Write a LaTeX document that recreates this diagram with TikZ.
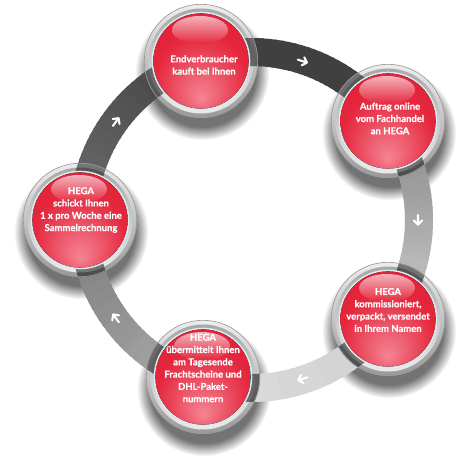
\documentclass[tikz,border=0pt]{standalone}
\usepackage{fontspec}
\setmainfont{Lato}[BoldFont={Lato Bold}, BoldFeatures={FakeBold=0.6}]
\usetikzlibrary{fadings}
\definecolor{reddark}{HTML}{BE001C}
\definecolor{redmid}{HTML}{E5283E}
\definecolor{redmidb}{HTML}{DC1A32}
\definecolor{redlight}{HTML}{F48494}
\definecolor{hilite}{HTML}{F7C2C8}
\definecolor{innerline}{HTML}{D8EEF0}
\pgfdeclareradialshading{redball}{\pgfpoint{0bp}{-20bp}}{color(0bp)=(redlight); color(24bp)=(redmid); color(42bp)=(redmidb); color(47bp)=(reddark); color(50bp)=(reddark)}
\tikzset{
  btntext/.style={text=white, font=\bfseries\fontsize{9.5}{12.3}\selectfont, align=center, inner sep=0pt},
  arrowmark/.style={white, line width=2.1pt, line cap=round, line join=round},
}
\newcommand{\bandarc}[4]{%
  \foreach \k in {0,...,35}{%
    \pgfmathsetmacro\angA{#1+(#2-#1)*\k/36}%
    \pgfmathsetmacro\angB{#1+(#2-#1)*(\k+1.4)/36}%
    \pgfmathtruncatemacro\bri{#3+(#4-#3)*\k/36}%
    \fill[white!\bri!black] (\angA:154) arc[start angle=\angA,end angle=\angB,radius=154] -- (\angB:182) arc[start angle=\angB,end angle=\angA,radius=182] -- cycle;
  }}
\newcommand{\shadowat}[1]{%
  \fill[black, opacity=0.55, path fading=circle with fuzzy edge 20 percent] ([shift={(1,-12)}]#1) circle (67);}
\newcommand{\rimat}[1]{%
  \begin{scope}[shift={(#1)}]
    \shade[top color=white!93!black, bottom color=white!60!black] (0,0) circle (57);
    \shade[top color=white!66!black, bottom color=white!92!black] (0,0) circle (52.5);
  \end{scope}}
\newcommand{\ballat}[1]{%
  \begin{scope}[shift={(#1)}]
    \draw[black!40, line width=0.6pt] (0,0) circle (56.7);
    \fill[innerline] (0,0) circle (49.3);
    \fill[shading=redball] (0,0) circle (47.6);
    \shade[top color=hilite, bottom color=redmid, opacity=0.9] (-1,31) ellipse (28 and 14);
  \end{scope}}
\newcommand{\arrowat}[1]{%
  \begin{scope}[shift={(#1:167)}, rotate=#1-90]
    \draw[arrowmark] (-5,0) -- (4.5,0) (0.4,-4.2) -- (4.6,0) -- (0.4,4.2);
  \end{scope}}
\begin{document}
\begin{tikzpicture}[x=1pt,y=1pt]
  \fill[white] (0,0) rectangle (470,455);
  \useasboundingbox (0,0) rectangle (470,455);
  \coordinate (T) at (201,394);
  \coordinate (RT) at (388,334);
  \coordinate (RB) at (388,136);
  \coordinate (B) at (203,78);
  \coordinate (L) at (80,235);
  \coordinate (C) at (251,235);
  \shadowat{T}\shadowat{RT}\shadowat{RB}\shadowat{B}\shadowat{L}
  \begin{scope}[shift={(C)}]
    \bandarc{110}{34}{25}{25}
    \bandarc{38}{-38}{52}{82}
    \bandarc{-34}{-110}{82}{87}
    \bandarc{254}{178}{68}{47}
    \bandarc{182}{106}{44}{25}
    \arrowat{72}\arrowat{0}\arrowat{-72}\arrowat{216}\arrowat{144}
  \end{scope}
  \rimat{T}\rimat{RT}\rimat{RB}\rimat{B}\rimat{L}
  \begin{scope}
    \clip (T) circle (57) (RT) circle (57) (RB) circle (57) (B) circle (57) (L) circle (57);
    \fill[black, opacity=0.5, even odd rule] (C) circle (182) (C) circle (154);
  \end{scope}
  \ballat{T}\ballat{RT}\ballat{RB}\ballat{B}\ballat{L}
  \node[btntext] (tT) at (204,390) {Endverbraucher\\kauft bei Ihnen};
  \node[btntext] (tRT) at (390,336.5) {Auftrag online\\vom Fachhandel\\an HEGA};
  \node[btntext] (tRB) at (388,145) {HEGA\\kommissioniert,\\verpackt, versendet\\in Ihrem Namen};
  \node[btntext] (tB) at (203,87) {HEGA\\übermittelt Ihnen\\am Tagesende\\Frachtscheine und\\DHL-Paket-\\nummern};
  \node[btntext] (tL) at (81,245) {HEGA\\schickt Ihnen\\1 x pro Woche eine\\Sammelrechnung};
\end{tikzpicture}
\end{document}
